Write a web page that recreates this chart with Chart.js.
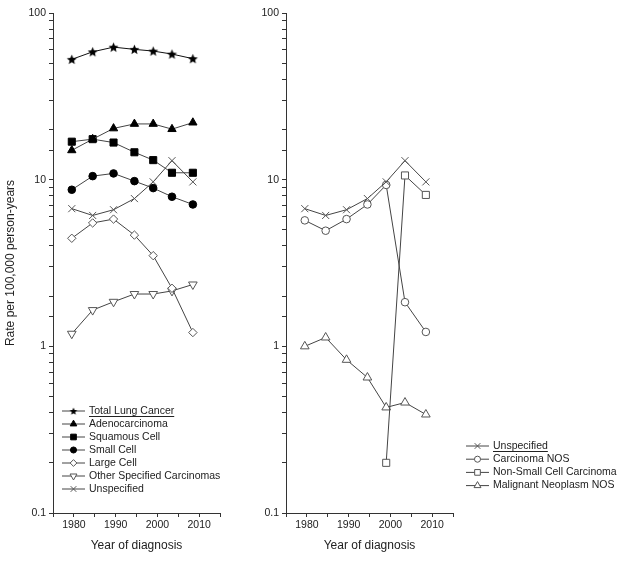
<!DOCTYPE html>
<html lang="en">
<head>
  <meta charset="UTF-8">
  <title>Lung cancer incidence by histology</title>
  <script src="https://cdn.jsdelivr.net/npm/chart.js"></script>
  <style>
    body {
      margin: 0;
      background: #fff;
    }
    .panel {
      position: absolute;
      top: 0;
    }
    #leftPanel { left: 0; }
    #rightPanel { left: 230px; }
  </style>
</head>
<body>
  <div class="panel" id="leftPanel"><canvas id="leftChart" width="280" height="562"></canvas></div>
  <div class="panel" id="rightPanel"><canvas id="rightChart" width="394" height="562"></canvas></div>

  <script>
    // period midpoints (year of diagnosis)
    const years = [1979.5, 1984.5, 1989.5, 1994.5, 1999, 2003.5, 2008.5];

    // left panel - rates per 100,000 person-years
    const totalLung = [52.7, 58.5, 62.4, 60.5, 59.1, 56.7, 53.2];
    const adeno = [15.0, 17.5, 20.3, 21.6, 21.6, 20.1, 22.0];
    const squamous = [16.9, 17.5, 16.7, 14.6, 13.1, 11.0, 11.0];
    const smallCell = [8.7, 10.5, 10.9, 9.8, 8.9, 7.9, 7.1];
    const largeCell = [4.45, 5.5, 5.8, 4.65, 3.5, 2.23, 1.21];
    const otherSpecified = [1.19, 1.65, 1.85, 2.06, 2.06, 2.15, 2.35];
    const unspecified = [6.7, 6.1, 6.6, 7.7, 9.7, 13.0, 9.7];

    // right panel
    const carcinomaNos = [5.7, 4.94, 5.8, 7.1, 9.3, 1.84, 1.22];
    const nonSmallCell = [null, null, null, null, 0.2, 10.6, 8.1];
    const malignantNos = [1.0, 1.13, 0.83, 0.65, 0.43, 0.46, 0.39];

    const yTicks = [0.1, 1, 10, 100];
    const xLabels = [1980, 1990, 2000, 2010];

    const FONT = "'Liberation Sans', Arial, sans-serif";
    const LINE = "#444";

    // filled five-point star marker
    function makeStar(r) {
      const c = document.createElement("canvas");
      const s = Math.ceil(r * 2 + 2);
      c.width = s;
      c.height = s;
      const ctx = c.getContext("2d");
      ctx.fillStyle = "#000";
      ctx.beginPath();
      for (let i = 0; i < 10; i++) {
        const rad = i % 2 === 0 ? r : r * 0.45;
        const a = -Math.PI / 2 + i * Math.PI / 5;
        const px = s / 2 + rad * Math.cos(a);
        const py = s / 2 + rad * Math.sin(a) + 0.5;
        if (i === 0) ctx.moveTo(px, py); else ctx.lineTo(px, py);
      }
      ctx.closePath();
      ctx.fill();
      return c;
    }
    const star = makeStar(5.2);
    const smallStar = makeStar(4);

    function series(label, values, style, opts) {
      return Object.assign({
        label: label,
        data: values.map((v, i) => ({ x: years[i], y: v })),
        borderColor: LINE,
        borderWidth: 1,
        pointStyle: style,
        pointRadius: 4,
        pointBorderWidth: 1,
        pointBorderColor: "#000",
        pointBackgroundColor: "#000",
        pointRotation: 0,
        spanGaps: false,
        tension: 0
      }, opts || {});
    }
    const open = { pointBorderColor: "#555", pointBackgroundColor: "#fff" };

    // legend drawn at fixed spot, from dataset properties
    const fixedLegend = {
      id: "fixedLegend",
      afterDraw(chart, args, o) {
        const ctx = chart.ctx;
        ctx.save();
        ctx.font = "10.5px " + FONT;
        ctx.textBaseline = "middle";
        chart.data.datasets.forEach((ds, i) => {
          const y = o.y + i * o.step;
          const x = o.x;
          ctx.strokeStyle = LINE;
          ctx.lineWidth = 1;
          ctx.beginPath();
          ctx.moveTo(x, y);
          ctx.lineTo(x + 23, y);
          ctx.stroke();
          ctx.fillStyle = ds.pointBackgroundColor;
          ctx.strokeStyle = ds.pointBorderColor;
          const ps = ds.pointStyle === star ? smallStar : ds.pointStyle;
          const style = { pointStyle: ps, rotation: ds.pointRotation, radius: ds.pointRadius * 0.8, borderWidth: 1 };
          if (Chart.helpers && Chart.helpers.drawPoint) {
            Chart.helpers.drawPoint(ctx, style, x + 11.5, y);
          }
          ctx.fillStyle = "#222";
          ctx.fillText(ds.label, x + 27, y);
          if (i === 0) {
            const w = ctx.measureText(ds.label).width;
            ctx.strokeStyle = "#222";
            ctx.beginPath();
            ctx.moveTo(x + 27, y + 5.5);
            ctx.lineTo(x + 27 + w, y + 5.5);
            ctx.stroke();
          }
        });
        ctx.restore();
      }
    };

    function scales(showTitle, yWidth) {
      return {
        x: {
          type: "linear",
          min: 1975,
          max: 2015,
          afterBuildTicks(scale) {
            const t = [];
            for (let v = 1975; v <= 2015; v += 5) t.push({ value: v });
            scale.ticks = t;
          },
          afterFit(scale) { scale.height = 49; },
          border: { display: true, color: "#333", width: 1 },
          grid: { drawOnChartArea: false, drawTicks: true, tickLength: 4, color: "#333" },
          ticks: {
            autoSkip: false,
            maxRotation: 0,
            padding: 2,
            color: "#222",
            font: { family: FONT, size: 10.5 },
            callback: v => xLabels.includes(v) ? String(v) : ""
          },
          title: {
            display: true,
            text: "Year of diagnosis",
            color: "#222",
            font: { family: FONT, size: 12 },
            padding: { top: 0, bottom: 9 }
          }
        },
        y: {
          type: "logarithmic",
          min: 0.1,
          max: 100,
          afterFit(scale) { scale.width = yWidth; },
          border: { display: true, color: "#333", width: 1 },
          grid: { drawOnChartArea: false, drawTicks: true, tickLength: 4, color: "#333" },
          ticks: {
            autoSkip: false,
            padding: 3,
            color: "#222",
            font: { family: FONT, size: 10.5 },
            callback: v => yTicks.some(t => Math.abs(t - v) < 1e-9) ? String(v) : ""
          },
          title: {
            display: showTitle,
            text: "Rate per 100,000 person-years",
            color: "#222",
            font: { family: FONT, size: 12 },
            padding: { top: 3, bottom: 0 }
          }
        }
      };
    }

    const baseOptions = (padRight, showTitle, yWidth, legendPos) => ({
      responsive: false,
      animation: false,
      layout: { padding: { top: 13, right: padRight, bottom: 0, left: 0 } },
      plugins: {
        legend: { display: false },
        tooltip: { enabled: false },
        fixedLegend: legendPos
      },
      scales: scales(showTitle, yWidth)
    });

    const leftChart = new Chart(document.getElementById("leftChart"), {
      type: "line",
      data: {
        datasets: [
          series("Total Lung Cancer", totalLung, star, { borderColor: "#111" }),
          series("Adenocarcinoma", adeno, "triangle", { pointRadius: 4.8 }),
          series("Squamous Cell", squamous, "rect", { pointRadius: 5 }),
          series("Small Cell", smallCell, "circle", { pointRadius: 3.8 }),
          series("Large Cell", largeCell, "rectRot", Object.assign({ pointRadius: 4.2 }, open)),
          series("Other Specified Carcinomas", otherSpecified, "triangle", Object.assign({ pointRotation: 180, pointRadius: 5 }, open)),
          series("Unspecified", unspecified, "crossRot", Object.assign({ pointRadius: 5 }, open))
        ]
      },
      options: baseOptions(60, true, 53, { x: 62, y: 411, step: 13 }),
      plugins: [fixedLegend]
    });

    const rightChart = new Chart(document.getElementById("rightChart"), {
      type: "line",
      data: {
        datasets: [
          series("Unspecified", unspecified, "crossRot", Object.assign({ pointRadius: 5 }, open)),
          series("Carcinoma NOS", carcinomaNos, "circle", Object.assign({ pointRadius: 3.8 }, open)),
          series("Non-Small Cell Carcinoma", nonSmallCell, "rect", Object.assign({ pointRadius: 5 }, open)),
          series("Malignant Neoplasm NOS", malignantNos, "triangle", Object.assign({ pointRadius: 5 }, open))
        ]
      },
      options: baseOptions(171, false, 56, { x: 236, y: 446, step: 13.2 }),
      plugins: [fixedLegend]
    });
  </script>
</body>
</html>
